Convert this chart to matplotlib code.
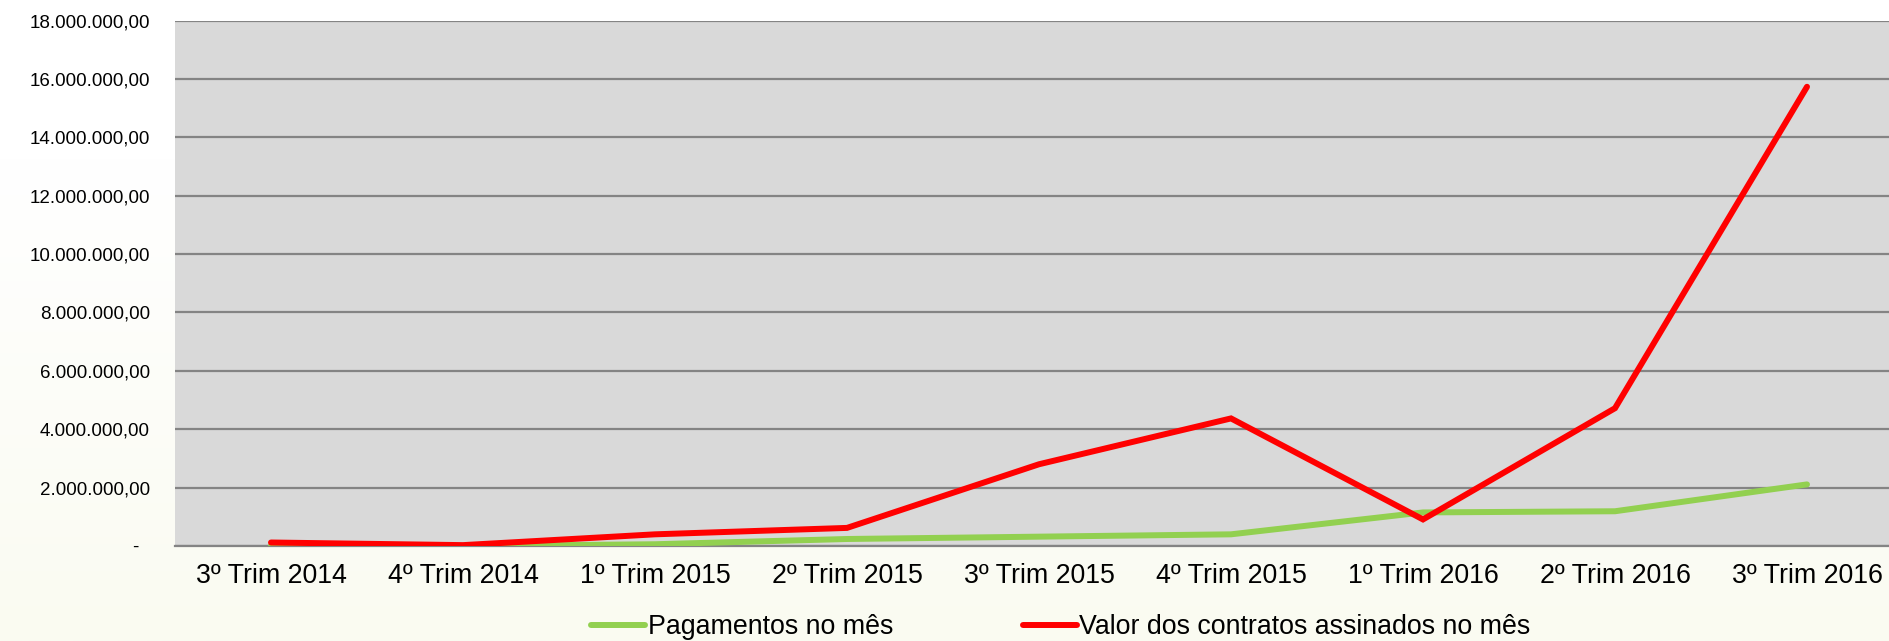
import matplotlib
matplotlib.use("Agg")
import matplotlib.pyplot as plt
import numpy as np
from matplotlib.ticker import FuncFormatter

categories = ["3º Trim 2014", "4º Trim 2014", "1º Trim 2015", "2º Trim 2015",
              "3º Trim 2015", "4º Trim 2015", "1º Trim 2016", "2º Trim 2016",
              "3º Trim 2016"]
pagamentos = [20000, 0, 60000, 240000, 320000, 400000, 1150000, 1190000, 2110000]
contratos = [120000, 30000, 400000, 620000, 2800000, 4370000, 910000, 4720000, 15730000]
series_names = ["Pagamentos no mês", "Valor dos contratos assinados no mês"]
yticks = list(range(0, 18000001, 2000000))

plt.rcParams['font.family'] = ['Liberation Sans', 'DejaVu Sans']

fig = plt.figure(figsize=(18.9, 6.41), dpi=100)

# background gradient
bg = fig.add_axes([0, 0, 1, 1], zorder=-10)
grad = np.linspace(0, 1, 256).reshape(-1, 1)
top = np.array([1.0, 1.0, 1.0])
bot = np.array([0xFA, 0xFB, 0xF1]) / 255.0
t = np.clip((grad - 0.25) / 0.75, 0, 1)
cols = (top[None, None, :] * (1 - t)[..., None] + bot[None, None, :] * t[..., None])
bg.imshow(cols, aspect='auto', extent=[0, 1, 0, 1], origin='upper')
bg.set_axis_off()

ax = fig.add_axes([175 / 1890, 95 / 641, 1728 / 1890, 525.5 / 641])
ax.set_facecolor('#D9D9D9')

x = np.arange(len(categories))
ax.plot(x, pagamentos, color='#92D050', lw=4.3, solid_joinstyle='miter',
        solid_capstyle='round', label=series_names[0], zorder=3)
ax.plot(x, contratos, color='#FF0000', lw=4.3, solid_joinstyle='miter',
        solid_capstyle='round', label=series_names[1], zorder=4)

ax.set_xlim(-0.5, len(categories) - 0.5)
ax.set_ylim(0, 18000000)
ax.set_yticks(yticks)


def fmt(v, pos):
    if v == 0:
        return "-  "
    s = f"{int(v):,}".replace(",", ".")
    return s + ",00"


ax.yaxis.set_major_formatter(FuncFormatter(fmt))
ax.set_xticks(x)
ax.set_xticklabels(categories)
ax.grid(axis='y', color='#848484', lw=1.6, zorder=1)
ax.set_axisbelow(True)
for s in ['left', 'right', 'top']:
    ax.spines[s].set_visible(False)
ax.spines['bottom'].set_color('#848484')
ax.spines['bottom'].set_linewidth(1.6)
ax.tick_params(axis='y', length=0, pad=18, labelsize=13.5, labelcolor='black')
ax.tick_params(axis='x', length=0, pad=12, labelsize=19.3, labelcolor='black')

leg = fig.legend(loc='center', bbox_to_anchor=(1061 / 1890, 14 / 641), ncol=2,
                 frameon=False, fontsize=19.3, handlelength=2.0,
                 handletextpad=0.1, columnspacing=4.85, borderpad=0)

fig.savefig("out.png", dpi=100)
